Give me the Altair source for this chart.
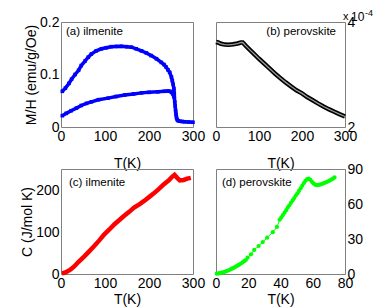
import altair as alt
import pandas as pd

FONT = "Liberation Sans"
BLUE, RED, GREEN, BLACK = "#0000ff", "#ff0000", "#00ff00", "#000000"
FRAME = "#808080"

# ---------------- data ----------------
# (a) ilmenite, M/H (emu/g/Oe)
a_up_T = [3, 10, 18, 24, 32, 40, 46, 55, 62, 69, 80, 92, 103, 114, 126, 137, 149, 160, 171, 183, 194, 205, 217, 228, 234, 239, 243, 247, 251, 253, 255, 256.5, 257.5]
a_up_M = [0.068, 0.074, 0.083, 0.091, 0.100, 0.108, 0.117, 0.126, 0.133, 0.139, 0.145, 0.149, 0.151, 0.153, 0.1535, 0.1537, 0.153, 0.152, 0.149, 0.145, 0.141, 0.136, 0.130, 0.123, 0.119, 0.114, 0.109, 0.104, 0.095, 0.088, 0.081, 0.073, 0.064]
a_lo_T = [3, 12, 23, 35, 46, 58, 69, 85, 107, 125, 145, 165, 183, 200, 220, 235, 243, 248, 251, 254, 256, 257.5]
a_lo_M = [0.0215, 0.026, 0.031, 0.036, 0.041, 0.045, 0.048, 0.052, 0.055, 0.058, 0.061, 0.063, 0.065, 0.066, 0.067, 0.068, 0.0686, 0.068, 0.066, 0.063, 0.060, 0.057]
a_tail_T = [257.5, 258.5, 259.5, 260.5, 261.5, 262.5, 264, 266, 270, 275, 281, 290, 300]
a_tail_M = [0.057, 0.048, 0.040, 0.031, 0.024, 0.018, 0.014, 0.012, 0.011, 0.0105, 0.010, 0.0095, 0.009]

# (b) perovskite, M/H in units of 1e-4
b_T = [0, 5, 10, 20, 30, 40, 50, 58, 62, 70, 80, 90, 100, 112, 125, 137, 150, 162, 175, 187, 200, 212, 225, 237, 250, 262, 275, 287, 300]
b_M = [3.62, 3.61, 3.59, 3.57, 3.565, 3.575, 3.59, 3.61, 3.61, 3.54, 3.46, 3.38, 3.30, 3.21, 3.11, 3.02, 2.93, 2.85, 2.77, 2.70, 2.64, 2.57, 2.51, 2.45, 2.39, 2.34, 2.29, 2.245, 2.20]

# (c) ilmenite, C (J/mol K)
c_T = [2, 8, 15, 22, 30, 40, 53, 64, 75, 87, 98, 110, 121, 132, 143, 155, 166, 178, 189, 200, 211, 222, 234, 245, 253, 258, 264, 270, 279, 287, 295]
c_C = [1.6, 3, 6.4, 11, 18, 29, 42, 54, 66, 80, 94, 106, 118, 128, 138, 148, 158, 166, 174, 183, 192, 202, 214, 223, 232, 236, 229, 223, 224, 227, 229]

# (d) perovskite, C (J/mol K)
d_T = [0.5, 1.5, 2.5, 3.5, 4.5, 5.5, 6.5, 7.5, 8.5, 9.5, 10.5, 11.5, 12.5, 13.5, 14.5, 15.5, 16.5, 17.5, 18.5,
       19.6, 21.7, 23.7, 26.4, 29.0, 31.7, 35.2, 37.8, 39.5,
       40.5, 41.5, 42.5, 43.5, 44.5, 45.5, 46.5, 47.5, 48.5, 49.5, 50.5, 51.5, 52.5, 53.5, 54.5, 55.5, 56.5, 57.5,
       58.5, 59.5, 60.5, 61.5, 62.5, 63.5, 64.5, 65.5, 66.5, 67.5, 68.5, 69.5, 70.5, 71.5, 72.5, 73.5]
d_C = [0.3, 0.5, 0.8, 1.1, 1.5, 1.9, 2.4, 3.0, 3.6, 4.3, 5.0, 5.7, 6.5, 7.3, 8.1, 9.0, 10.0, 11.0, 12.0,
       14.0, 16.9, 20.6, 24.0, 27.4, 31.1, 35.8, 40.3, 46.5,
       48.5, 50.5, 52.6, 54.7, 56.8, 58.9, 61.0, 63.1, 65.1, 67.2, 69.2, 71.3, 73.4, 75.7, 77.9, 79.9, 81.3, 81.8,
       80.7, 79.0, 77.6, 76.6, 76.2, 76.3, 76.7, 77.1, 77.6, 78.2, 78.8, 79.4, 80.1, 80.9, 81.7, 82.8]

panel_labels = ["(a) ilmenite", "(b) perovskite", "(c) ilmenite", "(d) perovskite"]
x_ticks_300 = [0, 100, 200, 300]
x_ticks_80 = [0, 20, 40, 60, 80]
a_yticks = [0, 0.1, 0.2]
b_yticks = [2, 3, 4]
c_yticks = [0, 100, 200]
d_yticks = [0, 30, 60, 90]

WL, WR, H = 132, 129, 105


def xaxis(ticks, title_y):
    return alt.Axis(values=ticks, title="T(K)", format="d", labelFlush=False,
                    labelOverlap=False, titleY=title_y, titleBaseline="top")


def label_text(txt, x, y, align, size=11.5, baseline="middle"):
    return alt.Chart(pd.DataFrame({"t": [txt]})).mark_text(
        font=FONT, fontSize=size, align=align, baseline=baseline, color="black"
    ).encode(x=alt.value(x), y=alt.value(y), text="t:N")


# ---- panel a ----
df_a = pd.concat([
    pd.DataFrame({"T": a_up_T, "M": a_up_M, "branch": "up"}),
    pd.DataFrame({"T": a_lo_T, "M": a_lo_M, "branch": "lo"}),
    pd.DataFrame({"T": a_tail_T, "M": a_tail_M, "branch": "tail"}),
])
xa = alt.X("T:Q", scale=alt.Scale(domain=[0, 300], nice=False, zero=False), axis=xaxis(x_ticks_300, 29))
ya = alt.Y("M:Q", scale=alt.Scale(domain=[0, 0.2], nice=False),
           axis=alt.Axis(values=a_yticks, format=".1~f", title="M/H (emu/g/Oe)", titlePadding=1))
base_a = alt.Chart(df_a)
pa = alt.layer(
    base_a.mark_line(color=BLUE, strokeWidth=3.5).encode(x=xa, y=ya, detail="branch:N"),
    base_a.mark_square(color=BLUE, size=13, opacity=1).encode(x=xa, y=ya),
    label_text(panel_labels[0], 5, 10, "left"),
).properties(width=WL, height=H)

# ---- panel b ----
df_b = pd.DataFrame({"T": b_T, "M": b_M})
xb = alt.X("T:Q", scale=alt.Scale(domain=[0, 300], nice=False, zero=False), axis=xaxis(x_ticks_300, 29))
yb = alt.Y("M:Q", scale=alt.Scale(domain=[2, 4], nice=False, zero=False),
           axis=alt.Axis(values=b_yticks, format="d", title=None, orient="right", labelPadding=2))
base_b = alt.Chart(df_b)
pb = alt.layer(
    base_b.mark_line(color=BLACK, strokeWidth=4.5).encode(x=xb, y=yb),
    base_b.mark_line(color="#9a9a9a", strokeWidth=1.3).encode(x=xb, y=yb),
    label_text(panel_labels[1], WR - 9, 10, "right"),
    label_text("x", WR - 2, -2, "left", 11, "alphabetic"),
    label_text("10", WR + 6, -1, "left", 12, "alphabetic"),
    label_text("-4", WR + 20, -6, "left", 9, "alphabetic"),
).properties(width=WR, height=H)

# ---- panel c ----
df_c = pd.DataFrame({"T": c_T, "C": c_C})
xc = alt.X("T:Q", scale=alt.Scale(domain=[0, 300], nice=False, zero=False), axis=xaxis(x_ticks_300, 18))
yc = alt.Y("C:Q", scale=alt.Scale(domain=[0, 250], nice=False),
           axis=alt.Axis(values=c_yticks, format="d", title="C (J/mol K)", titlePadding=1))
pc = alt.layer(
    alt.Chart(df_c).mark_line(color=RED, strokeWidth=4.5).encode(x=xc, y=yc),
    label_text(panel_labels[2], 8, 14, "left"),
).properties(width=WL, height=H)

# ---- panel d ----
df_d = pd.DataFrame({"T": d_T, "C": d_C})
xd = alt.X("T:Q", scale=alt.Scale(domain=[0, 80], nice=False, zero=False), axis=xaxis(x_ticks_80, 18))
yd = alt.Y("C:Q", scale=alt.Scale(domain=[0, 90], nice=False),
           axis=alt.Axis(values=d_yticks, format="d", title=None, orient="right", labelPadding=2))
base_d = alt.Chart(df_d)
pdd = alt.layer(
    base_d.mark_line(color=GREEN, strokeWidth=1).encode(x=xd, y=yd),
    base_d.mark_circle(color=GREEN, size=18, opacity=1).encode(x=xd, y=yd),
    label_text(panel_labels[3], 6, 14, "left"),
).properties(width=WR, height=H)

chart = alt.concat(
    pa, pb, pc, pdd, columns=2,
    spacing=alt.RowColnumber(row=42, column=23), bounds="flush",
).properties(
    padding={"left": 12, "top": 0, "right": 0, "bottom": 0}
).configure_view(
    stroke=FRAME, strokeWidth=1
).configure_axis(
    labelFont=FONT, titleFont=FONT, labelFontSize=14, titleFontSize=14,
    labelColor="black", titleColor="black", titleFontWeight="normal",
    domain=False, ticks=False, grid=False, labelPadding=2,
)

chart.save("out.html", embed_options={"renderer": "svg", "actions": False})
